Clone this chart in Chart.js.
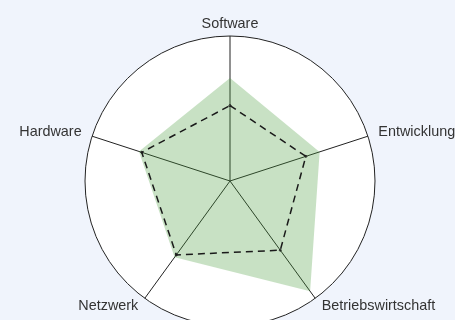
<!DOCTYPE html>
<html>
<head>
<meta charset="utf-8">
<script src="https://cdn.jsdelivr.net/npm/chart.js@4/dist/chart.umd.min.js"></script>
<style>
  html, body { margin: 0; padding: 0; background: #f0f4fc; overflow: hidden; }
  canvas { display: block; }
</style>
</head>
<body>
<canvas id="radar" width="455" height="320"></canvas>
<script>
// Daten
const categories = ['Software', 'Entwicklung', 'Betriebswirtschaft', 'Netzwerk', 'Hardware'];
const istWerte = [71, 65, 94, 65, 66];
const sollWerte = [52, 55, 59, 63, 64];
const scaleMin = 0;
const scaleMax = 100;

const labelFont = { family: '"Liberation Sans", Arial, sans-serif', size: 14.4 };
const labelGap = 11;

// Labels wie im Original: seitlich ausgerichtet, vertikal zentriert
function placeLabels(scale) {
  scale.xCenter = 230;
  scale.yCenter = 181;
  scale.drawingArea = 145;
  const ctx = scale.ctx;
  ctx.save();
  ctx.font = labelFont.size + 'px ' + labelFont.family;
  const h = labelFont.size * 1.2;
  scale._pointLabelItems = scale._pointLabels.map((label, i) => {
    const pos = scale.getPointPosition(i, scale.drawingArea + labelGap);
    const w = ctx.measureText(label).width;
    const s = Math.sin(scale.getIndexAngle(i));
    const textAlign = s > 0.05 ? 'left' : (s < -0.05 ? 'right' : 'center');
    const left = textAlign === 'left' ? pos.x : (textAlign === 'right' ? pos.x - w : pos.x - w / 2);
    const top = pos.y - h / 2 - 1;
    return { visible: true, x: pos.x, y: top, textAlign, left, top, right: left + w, bottom: top + h };
  });
  ctx.restore();
}

new Chart(document.getElementById('radar'), {
  type: 'radar',
  data: {
    labels: categories,
    datasets: [{
      label: 'Soll',
      data: sollWerte,
      fill: false,
      borderColor: '#1a1a1a',
      borderWidth: 1.5,
      borderDash: [7, 5],
      pointRadius: 1,
      pointBorderWidth: 1,
      pointBorderColor: '#1a1a1a',
      pointBackgroundColor: 'transparent',
      tension: 0
    }, {
      label: 'Ist',
      data: istWerte,
      fill: true,
      backgroundColor: 'rgba(72, 155, 58, 0.3)',
      borderWidth: 0,
      borderColor: 'rgba(0,0,0,0)',
      pointRadius: 0
    }]
  },
  options: {
    responsive: false,
    animation: false,
    plugins: {
      legend: { display: false },
      tooltip: { enabled: false }
    },
    scales: {
      r: {
        min: scaleMin,
        max: scaleMax,
        backgroundColor: '#ffffff',
        ticks: { display: false, stepSize: scaleMax },
        grid: { circular: true, color: '#222', lineWidth: 1 },
        angleLines: { color: '#222', lineWidth: 1 },
        pointLabels: { font: labelFont, color: '#333' },
        afterFit: placeLabels
      }
    }
  }
});
</script>
</body>
</html>
